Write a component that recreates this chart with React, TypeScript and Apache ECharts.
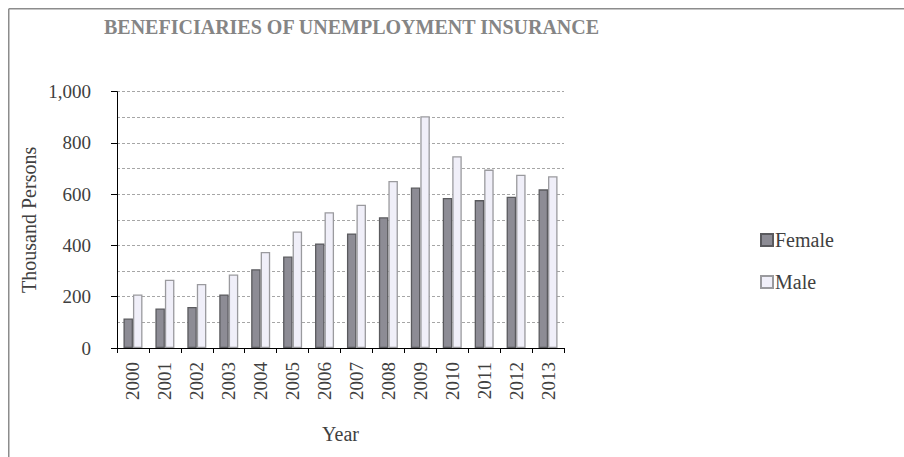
import React, { useEffect, useRef } from "react";
import * as echarts from "echarts";

const years = ["2000", "2001", "2002", "2003", "2004", "2005", "2006", "2007", "2008", "2009", "2010", "2011", "2012", "2013"];
const female = [115, 154, 160, 209, 307, 357, 408, 447, 510, 626, 585, 577, 590, 619];
const male = [209, 266, 250, 287, 375, 455, 530, 559, 652, 904, 748, 696, 676, 670];
const yTicks = [0, 200, 400, 600, 800, 1000];

const FONT = "'Liberation Serif', 'Times New Roman', serif";

export default function App() {
  const ref = useRef<HTMLDivElement>(null);
  useEffect(() => {
    if (!ref.current) return;
    const chart = echarts.init(ref.current, undefined, { renderer: "svg" });
    const grid = "#a6a6a6";
    chart.setOption({
      animation: false,
      backgroundColor: "#ffffff",
      graphic: [
        {
          type: "line",
          shape: { x1: 0.75, y1: 0.75, x2: 896, y2: 0.75 },
          style: { stroke: "#8c8c8c", lineWidth: 1.5 },
          silent: true,
        },
        {
          type: "line",
          shape: { x1: 0.75, y1: 0.75, x2: 0.75, y2: 449 },
          style: { stroke: "#8c8c8c", lineWidth: 1.5 },
          silent: true,
        },
      ],
      title: {
        text: "BENEFICIARIES OF UNEMPLOYMENT INSURANCE",
        left: 96,
        top: 9,
        padding: 0,
        textStyle: { fontFamily: FONT, fontSize: 20, fontWeight: "bold", color: "#858585" },
      },
      legend: {
        orient: "vertical",
        left: 747,
        top: 217,
        itemWidth: 12,
        itemHeight: 12,
        itemGap: 22,
        icon: "rect",
        textStyle: { fontFamily: FONT, fontSize: 20, color: "#404040", padding: [0, 0, 0, -3] },
        data: ["Female", "Male"],
      },
      grid: { left: 109, right: 340, top: 83.7, bottom: 109, containLabel: false },
      xAxis: {
        type: "category",
        data: years,
        name: "Year",
        nameLocation: "middle",
        nameGap: 76,
        nameTextStyle: { fontFamily: FONT, fontSize: 20, color: "#404040" },
        axisLine: { lineStyle: { color: "#000000", width: 1 } },
        axisTick: { show: true, interval: 0, length: 5, lineStyle: { color: "#000000" } },
        axisLabel: { rotate: 90, interval: 0, margin: 14, fontFamily: FONT, fontSize: 19, color: "#404040" },
      },
      yAxis: {
        type: "value",
        min: yTicks[0],
        max: yTicks[yTicks.length - 1],
        interval: 200,
        name: "Thousand Persons",
        nameLocation: "middle",
        nameGap: 78,
        nameRotate: 90,
        nameTextStyle: { fontFamily: FONT, fontSize: 20, color: "#404040" },
        axisLine: { show: true, lineStyle: { color: "#000000", width: 1 } },
        axisTick: { show: true, length: 6, lineStyle: { color: "#000000" } },
        axisLabel: {
          margin: 26,
          fontFamily: FONT,
          fontSize: 19,
          color: "#404040",
          formatter: (v: number) => v.toLocaleString("en-US"),
        },
        splitLine: { show: true, lineStyle: { color: grid, type: [3, 2], width: 1 } },
        minorTick: { show: false, splitNumber: 2 },
        minorSplitLine: { show: true, lineStyle: { color: grid, type: [3, 2], width: 1 } },
      },
      series: [
        {
          name: "Female",
          type: "bar",
          data: female,
          barWidth: 9.5,
          barGap: "0%",
          itemStyle: { color: "#8d8c95", borderColor: "#5a5a5e", borderWidth: 1.3 },
        },
        {
          name: "Male",
          type: "bar",
          data: male,
          barWidth: 9.5,
          barGap: "0%",
          itemStyle: { color: "#f0eff9", borderColor: "#9a9a9e", borderWidth: 1.3 },
        },
      ],
    });
    return () => chart.dispose();
  }, []);
  return (
    <div
      ref={ref}
      style={{ position: "absolute", left: 8, top: 8, width: 896, height: 449 }}
    />
  );
}
